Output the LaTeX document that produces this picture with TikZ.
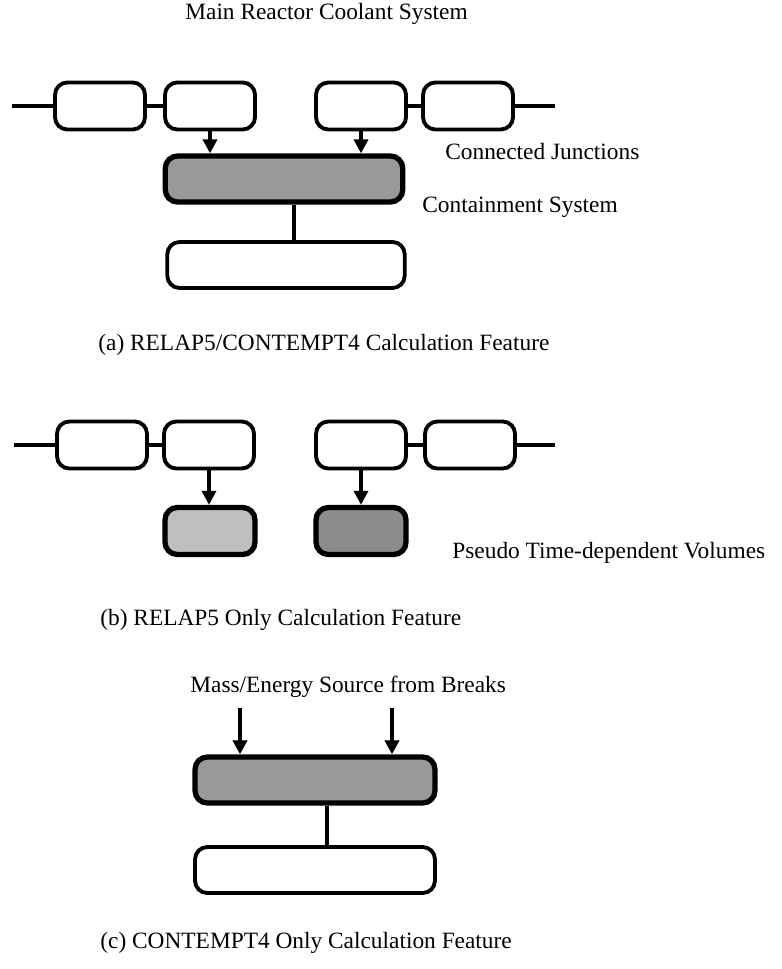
\documentclass[tikz,border=0pt]{standalone}
\usepackage{fontspec}
\setmainfont{Liberation Serif}
\usetikzlibrary{arrows.meta}

\begin{document}
\begin{tikzpicture}[x=0.02cm, y=-0.02cm, >={Triangle[width=8pt,length=8pt]},
  vol/.style={draw, line width=2.2pt, rounded corners=7pt, minimum width=1.8cm, minimum height=0.94cm, inner sep=0pt},
  pvol/.style={vol, line width=3pt, fill=black!40},
  cont/.style={draw, line width=2.2pt, rounded corners=7pt, minimum width=4.75cm, minimum height=0.92cm, inner sep=0pt},
  pipe/.style={line width=2.2pt},
  lbl/.style={anchor=base west, inner sep=0pt, font=\fontsize{13.3}{16}\selectfont}]
  \useasboundingbox (0,0) rectangle (781,969);

  % (a) coupled calculation
  \node[lbl] (title) at (185,20) {Main Reactor Coolant System};
  \node[vol] (a1) at (100,106) {};
  \node[vol] (a2) at (210,106) {};
  \node[vol] (a3) at (361,106) {};
  \node[vol] (a4) at (468,106) {};
  \coordinate (ain) at (12,106);
  \coordinate (aout) at (555,106);
  \draw[pipe] (ain) -- (a1) (a1) -- (a2) (a3) -- (a4) (a4) -- (aout);
  \node[cont, fill=black!40, line width=3pt] (acont) at (284,179) {};
  \node[cont] (abot) at (286,265) {};
  \draw[pipe,->] (a2.south) -- (a2.south |- acont.north);
  \draw[pipe,->] (a3.south) -- (a3.south |- acont.north);
  \draw[pipe] ([xshift=0.2cm]acont.south) -- ([xshift=0.2cm]acont.south |- abot.north);
  \node[lbl] (junc) at (445,160) {Connected Junctions};
  \node[lbl] (csys) at (422,213) {Containment System};
  \node[lbl] (capa) at (98,350) {(a) RELAP5/CONTEMPT4 Calculation Feature};

  % (b) RELAP5 alone
  \node[vol] (b1) at (102,445) {};
  \node[vol] (b2) at (209,445) {};
  \node[vol] (b3) at (361,445) {};
  \node[vol] (b4) at (470,445) {};
  \coordinate (bin) at (14,445);
  \coordinate (bout) at (555,445);
  \draw[pipe] (bin) -- (b1) (b1) -- (b2) (b3) -- (b4) (b4) -- (bout);
  \node[pvol, fill=black!25] (tdv1) at (210,531) {};
  \node[pvol, fill=black!45] (tdv2) at (361,531) {};
  \draw[pipe,->] (b2.south) -- (b2.south |- tdv1.north);
  \draw[pipe,->] (b3.south) -- (b3.south |- tdv2.north);
  \node[lbl] (pseudo) at (452,558) {Pseudo Time-dependent Volumes};
  \node[lbl] (capb) at (100,625) {(b) RELAP5 Only Calculation Feature};

  % (c) CONTEMPT4 alone
  \node[lbl] (src) at (190,692) {Mass/Energy Source from Breaks};
  \node[cont, fill=black!40, line width=3pt, minimum width=4.8cm] (ccont) at (315,780) {};
  \node[cont, minimum width=4.8cm] (cbot) at (315,870) {};
  \coordinate (s1) at (240,708);
  \coordinate (s2) at (392,708);
  \draw[pipe,->] (s1) -- (s1 |- ccont.north);
  \draw[pipe,->] (s2) -- (s2 |- ccont.north);
  \draw[pipe] ([xshift=0.24cm]ccont.south) -- ([xshift=0.24cm]ccont.south |- cbot.north);
  \node[lbl] (capc) at (100,948) {(c) CONTEMPT4 Only Calculation Feature};
\end{tikzpicture}
\end{document}
